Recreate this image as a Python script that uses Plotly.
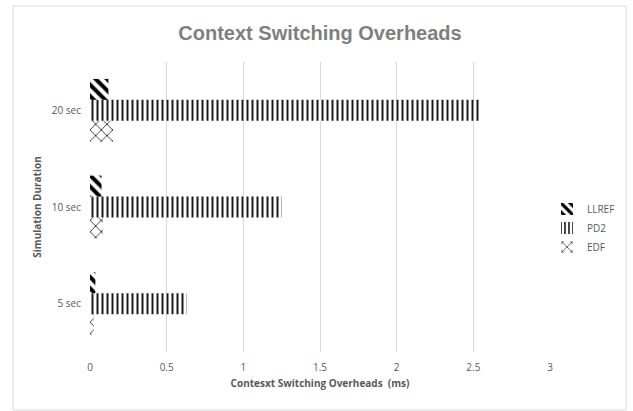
import plotly.graph_objects as go

durations = ["5 sec", "10 sec", "20 sec"]
llref = [0.035, 0.075, 0.12]
pd2 = [0.63, 1.25, 2.54]
edf = [0.025, 0.085, 0.15]

x_ticks = [0, 0.5, 1, 1.5, 2, 2.5, 3]
x_tick_text = ["0", "0.5", "1", "1.5", "2", "2.5", "3"]

W, H = 633, 411
ML, MR, MT, MB = 90, 83, 62, 59
pw, ph = W - ML - MR, H - MT - MB

fig = go.Figure()

# traces added bottom-to-top within each group
fig.add_trace(go.Bar(
    y=durations, x=edf, name="EDF", orientation="h", legendrank=3,
    marker=dict(color="white", line=dict(width=0),
                pattern=dict(shape="x", size=8, solidity=0.2, fgopacity=1,
                             fgcolor="#222222", bgcolor="white")),
))
fig.add_trace(go.Bar(
    y=durations, x=pd2, name="PD2", orientation="h", legendrank=2,
    marker=dict(color="white", line=dict(width=0),
                pattern=dict(shape="|", size=5, solidity=0.4, fgopacity=1,
                             fgcolor="#1a1a1a", bgcolor="white")),
))
fig.add_trace(go.Bar(
    y=durations, x=llref, name="LLREF", orientation="h", legendrank=1,
    marker=dict(color="white", line=dict(width=0),
                pattern=dict(shape="\\", size=8, solidity=0.5, fgopacity=1,
                             fgcolor="#000000", bgcolor="white")),
))

def px_x(p):
    return (p - ML) / pw

def px_y(p):
    return (H - MB - p) / ph

fig.update_layout(
    width=W, height=H,
    margin=dict(l=ML, r=MR, t=MT, b=MB, autoexpand=False),
    paper_bgcolor="white", plot_bgcolor="white",
    barmode="group", bargap=0.35, bargroupgap=0,
    font=dict(family="Open Sans, Liberation Sans, sans-serif", color="#595959", size=10),
    title=dict(text="<b>Context Switching Overheads</b>",
               x=(320) / W, xanchor="center", y=1 - 33 / H, yanchor="middle",
               font=dict(family="Liberation Sans, Arial, sans-serif", size=20, color="#7f7f7f")),
    xaxis=dict(range=[0, 3], tickvals=x_ticks, ticktext=x_tick_text,
               showgrid=True, gridcolor="#d9d9d9", gridwidth=1,
               zeroline=False, showline=False, ticks="", ticklabelstandoff=8,
               tickfont=dict(size=10, color="#595959"),
               title=dict(text="<b>Contesxt Switching Overheads  (ms)</b>",
                          font=dict(size=10, color="#595959"), standoff=6)),
    yaxis=dict(categoryorder="array", categoryarray=durations,
               showgrid=False, zeroline=False, showline=False, ticks="",
               ticklabelstandoff=8,
               tickfont=dict(size=10, color="#595959"),
               title=dict(text="<b>Simulation Duration</b>",
                          font=dict(size=10, color="#595959"), standoff=8)),
    legend=dict(x=px_x(547), xanchor="left", y=px_y(228), yanchor="middle",
                font=dict(size=10, color="#595959"), itemwidth=30,
                tracegroupgap=6, bgcolor="rgba(0,0,0,0)"),
    shapes=[dict(type="rect", xref="paper", yref="paper",
                 x0=px_x(13), x1=px_x(626), y0=px_y(410), y1=px_y(6),
                 line=dict(color="#d9d9d9", width=1), fillcolor="rgba(0,0,0,0)",
                 layer="below")],
)

fig.write_html("out.html")
